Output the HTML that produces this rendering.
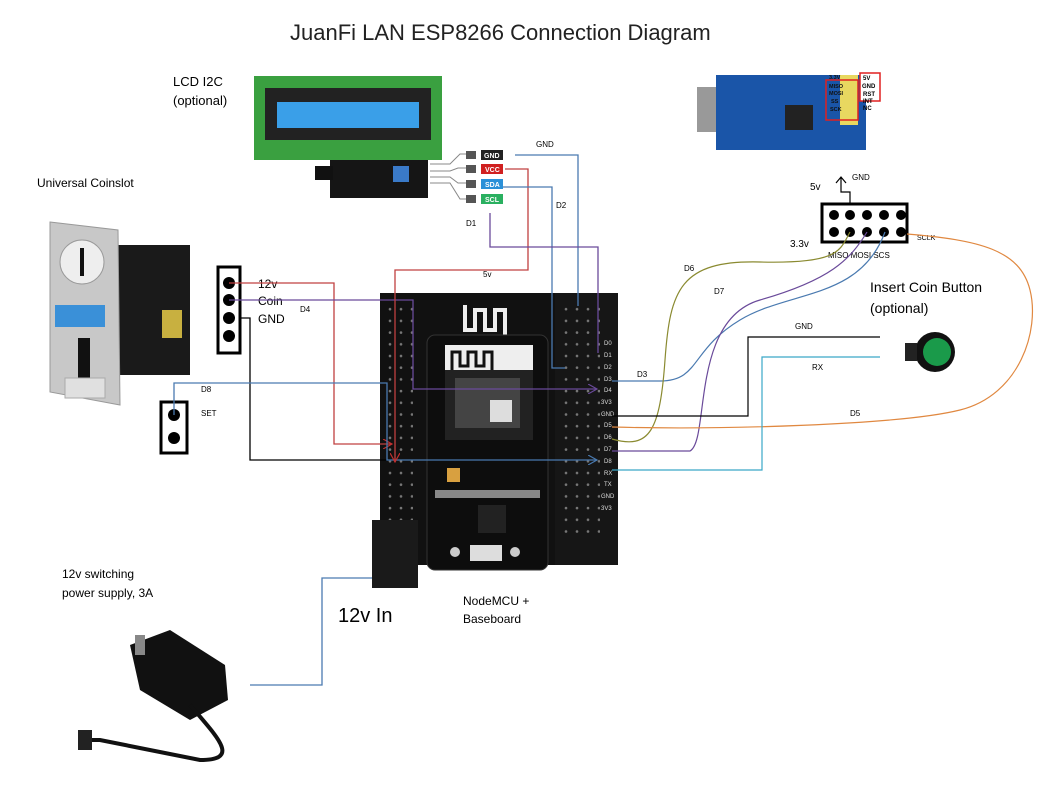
<!DOCTYPE html>
<html><head><meta charset="utf-8"><style>
body{margin:0;background:#fff;width:1052px;height:786px;overflow:hidden}
svg{display:block}
text{font-family:"Liberation Sans","DejaVu Sans",sans-serif}
</style></head><body>
<svg width="1052" height="786" viewBox="0 0 1052 786" xmlns="http://www.w3.org/2000/svg">
<defs>
<marker id="ap" markerWidth="10" markerHeight="10" refX="9" refY="5" orient="auto" markerUnits="userSpaceOnUse"><path d="M0,0 L9,5 L0,10" fill="none" stroke="#6a4a9a" stroke-width="1.2"/></marker>
<marker id="ab" markerWidth="10" markerHeight="10" refX="9" refY="5" orient="auto" markerUnits="userSpaceOnUse"><path d="M0,0 L9,5 L0,10" fill="none" stroke="#4a7ab0" stroke-width="1.2"/></marker>
<marker id="ar" markerWidth="10" markerHeight="10" refX="9" refY="5" orient="auto" markerUnits="userSpaceOnUse"><path d="M0,0 L9,5 L0,10" fill="none" stroke="#c03030" stroke-width="1.2"/></marker>
<pattern id="dots" width="11" height="11.7" patternUnits="userSpaceOnUse"><circle cx="5" cy="5" r="1.3" fill="#777"/></pattern>
</defs>
<text x="290" y="40" font-size="22" fill="#222">JuanFi LAN ESP8266 Connection Diagram</text>

<!-- LCD -->
<text x="173" y="86" font-size="13">LCD  I2C</text>
<text x="173" y="105" font-size="13">(optional)</text>
<rect x="254" y="76" width="188" height="84" fill="#3aa040"/>
<rect x="265" y="88" width="166" height="52" fill="#222"/>
<rect x="277" y="102" width="142" height="26" fill="#3a9fe8"/>
<rect x="330" y="160" width="98" height="38" fill="#151515"/>
<rect x="393" y="166" width="16" height="16" fill="#3a7ac8"/>
<rect x="315" y="166" width="18" height="14" fill="#111"/>
<g font-size="7" font-weight="bold" fill="#fff">
<rect x="466" y="151" width="10" height="8" fill="#555"/><rect x="481" y="150" width="22" height="10" fill="#222"/><text x="484" y="158">GND</text>
<rect x="466" y="165" width="10" height="8" fill="#555"/><rect x="481" y="164" width="22" height="10" fill="#d02020"/><text x="485" y="172">VCC</text>
<rect x="466" y="180" width="10" height="8" fill="#555"/><rect x="481" y="179" width="22" height="10" fill="#2a90d8"/><text x="485" y="187">SDA</text>
<rect x="466" y="195" width="10" height="8" fill="#555"/><rect x="481" y="194" width="22" height="10" fill="#2ab060"/><text x="485" y="202">SCL</text>
</g>
<g stroke="#888" fill="none"><path d="M430 164h20l10-10h6M430 171h20l8-3h8M430 177h20l8 6h8M430 183h20l10 16h6"/></g>

<!-- coinslot -->
<text x="37" y="187" font-size="12">Universal Coinslot</text>
<rect x="118" y="245" width="72" height="130" fill="#1a1a1a"/>
<rect x="162" y="310" width="20" height="28" fill="#c8b040"/>
<path d="M50 222 L118 230 L120 405 L50 392Z" fill="#c8c8c8" stroke="#999"/>
<circle cx="82" cy="262" r="22" fill="#eee" stroke="#999"/>
<rect x="80" y="248" width="4" height="28" fill="#111"/>
<rect x="55" y="305" width="50" height="22" fill="#3a90d8"/>
<path d="M78 338h12v40h-12z" fill="#111"/>
<rect x="65" y="378" width="40" height="20" fill="#e0e0e0" stroke="#aaa"/>

<rect x="218" y="267" width="22" height="86" fill="#fff" stroke="#000" stroke-width="3"/>
<g fill="#000"><circle cx="229" cy="283" r="6"/><circle cx="229" cy="300" r="6"/><circle cx="229" cy="318" r="6"/><circle cx="229" cy="336" r="6"/></g>
<text x="258" y="288" font-size="12">12v</text>
<text x="258" y="305" font-size="12">Coin</text>
<text x="258" y="323" font-size="12">GND</text>
<text x="300" y="312" font-size="8">D4</text>
<rect x="161" y="402" width="26" height="51" fill="#fff" stroke="#000" stroke-width="3"/>
<circle cx="174" cy="415" r="6"/><circle cx="174" cy="438" r="6"/>
<text x="201" y="392" font-size="8">D8</text>
<text x="201" y="416" font-size="8">SET</text>

<!-- baseboard -->
<rect x="380" y="293" width="238" height="272" fill="#111"/>
<rect x="555" y="293" width="63" height="272" fill="#161616"/>
<rect x="383" y="300" width="30" height="250" fill="url(#dots)"/>
<rect x="560" y="300" width="40" height="235" fill="url(#dots)"/>
<path d="M465 305v25h10v-20h10v20h10v-20h10v25" fill="none" stroke="#eee" stroke-width="4"/>
<g font-size="6" fill="#ddd">
<text x="604" y="345">D0</text><text x="604" y="357">D1</text><text x="604" y="369">D2</text><text x="604" y="381">D3</text><text x="604" y="392">D4</text><text x="601" y="404">3V3</text><text x="601" y="416">GND</text><text x="604" y="427">D5</text><text x="604" y="439">D6</text><text x="604" y="451">D7</text><text x="604" y="463">D8</text><text x="604" y="475">RX</text><text x="604" y="486">TX</text><text x="601" y="498">GND</text><text x="601" y="510">3V3</text>
</g>
<rect x="427" y="335" width="121" height="235" rx="8" fill="#0d0d0d" stroke="#333"/>
<rect x="445" y="345" width="88" height="30" fill="#eee"/>
<path d="M452 370v-18h8v14h8v-14h8v14h8v-14h8v18" fill="none" stroke="#111" stroke-width="3"/>
<rect x="445" y="370" width="88" height="70" fill="#222"/>
<rect x="455" y="378" width="65" height="50" fill="#444"/>
<rect x="490" y="400" width="22" height="22" fill="#ddd"/>
<rect x="478" y="505" width="28" height="28" fill="#222"/>
<rect x="470" y="545" width="32" height="16" fill="#ddd"/>
<circle cx="455" cy="552" r="5" fill="#ccc"/><circle cx="515" cy="552" r="5" fill="#ccc"/>
<rect x="447" y="468" width="13" height="14" fill="#d8a040"/>
<rect x="435" y="490" width="105" height="8" fill="#888"/>
<rect x="372" y="520" width="46" height="68" fill="#1a1a1a"/>

<text x="463" y="605" font-size="12">NodeMCU  +</text>
<text x="463" y="623" font-size="12">Baseboard</text>
<text x="338" y="622" font-size="20">12v In</text>

<!-- wires left -->
<g fill="none" stroke-width="1.3">
<path d="M229 283H334V444H392" stroke="#c04040" marker-end="url(#ar)"/>
<path d="M229 300H413V389H597" stroke="#6a4a9a" marker-end="url(#ap)"/>
<path d="M240 318H250V460H395" stroke="#000"/>
<path d="M174 415V383H387V460H597" stroke="#4a7ab0" marker-end="url(#ab)"/>
<path d="M505 169H528V270H395V462" stroke="#c04040" marker-end="url(#ar)"/>
<path d="M515 155H578V306" stroke="#4a7ab0"/>
<path d="M503 187H552V368H565" stroke="#4a7ab0"/>
<path d="M490 213V247H598V353" stroke="#6a4a9a"/>
<path d="M250 685H322V578H372" stroke="#4a7ab0"/>
</g>
<g font-size="8"><text x="536" y="147">GND</text><text x="556" y="208">D2</text><text x="466" y="226">D1</text><text x="483" y="277">5v</text></g>

<!-- W5500 -->
<rect x="697" y="87" width="30" height="45" fill="#999"/>
<rect x="716" y="75" width="150" height="75" fill="#1a55a8"/>
<rect x="785" y="105" width="28" height="25" fill="#222"/>
<rect x="840" y="75" width="18" height="50" fill="#e8d860"/>
<rect x="826" y="80" width="32" height="40" fill="none" stroke="#e02020" stroke-width="1.5"/>
<rect x="860" y="73" width="20" height="28" fill="#fff" stroke="#e02020" stroke-width="1.5"/>
<g font-size="5.5" font-weight="bold" fill="#111"><text x="829" y="79">3.3V</text><text x="829" y="88">MISO</text><text x="829" y="95">MOSI</text><text x="831" y="103">SS</text><text x="830" y="111">SCK</text></g>
<g font-size="6" font-weight="bold"><text x="863" y="80">5V</text><text x="862" y="88">GND</text><text x="863" y="96">RST</text><text x="863" y="103">INT</text><text x="863" y="110">NC</text></g>

<!-- 10-pin -->
<text x="852" y="180" font-size="8">GND</text>
<text x="810" y="190" font-size="10">5v</text>
<path d="M850 205V192H841V177M836 183l5-6 5 6" fill="none" stroke="#000" stroke-width="1.2"/>
<rect x="822" y="204" width="85" height="38" fill="#fff" stroke="#000" stroke-width="3"/>
<g><circle cx="834" cy="215" r="5"/><circle cx="850" cy="215" r="5"/><circle cx="867" cy="215" r="5"/><circle cx="884" cy="215" r="5"/><circle cx="901" cy="215" r="5"/>
<circle cx="834" cy="232" r="5"/><circle cx="850" cy="232" r="5"/><circle cx="867" cy="232" r="5"/><circle cx="884" cy="232" r="5"/><circle cx="901" cy="232" r="5"/></g>
<text x="790" y="247" font-size="10">3.3v</text>
<text x="828" y="258" font-size="8">MISO MOSI  SCS</text>
<text x="917" y="240" font-size="7">SCLK</text>

<!-- button -->
<text x="870" y="292" font-size="14">Insert Coin Button</text>
<text x="870" y="313" font-size="14">(optional)</text>
<circle cx="935" cy="352" r="20" fill="#111"/>
<circle cx="937" cy="352" r="14" fill="#1a9a4a"/>
<rect x="905" y="343" width="12" height="18" fill="#222"/>

<!-- right wires -->
<g fill="none" stroke-width="1.2">
<path d="M612 381H660C700 381 690 350 740 320S860 300 885 232" stroke="#4a7ab0"/>
<path d="M612 439C650 450 660 430 665 360S680 260 760 262 840 250 850 232" stroke="#8a8a30"/>
<path d="M612 451H690C710 440 690 320 760 300S850 260 867 232" stroke="#6a4a9a"/>
<path d="M612 427C720 430 900 425 960 410S1040 330 1030 290 980 240 907 234" stroke="#e08840"/>
<path d="M612 416H748V337H880" stroke="#000"/>
<path d="M612 470H762V357H880" stroke="#3aa8c8"/>
</g>
<g font-size="8"><text x="637" y="377">D3</text><text x="684" y="271">D6</text><text x="714" y="294">D7</text><text x="795" y="329">GND</text><text x="812" y="370">RX</text><text x="850" y="416">D5</text></g>

<!-- power -->
<text x="62" y="578" font-size="12">12v  switching</text>
<text x="62" y="597" font-size="12">power supply, 3A</text>
<path d="M130 645 L170 630 L225 665 L228 700 L190 720 L140 690Z" fill="#111"/>
<rect x="135" y="635" width="10" height="20" fill="#888"/>
<path d="M190 705 C220 740 240 760 200 760 L100 740 L85 740" fill="none" stroke="#111" stroke-width="4"/>
<rect x="78" y="730" width="14" height="20" fill="#222"/>
</svg>
</body></html>
